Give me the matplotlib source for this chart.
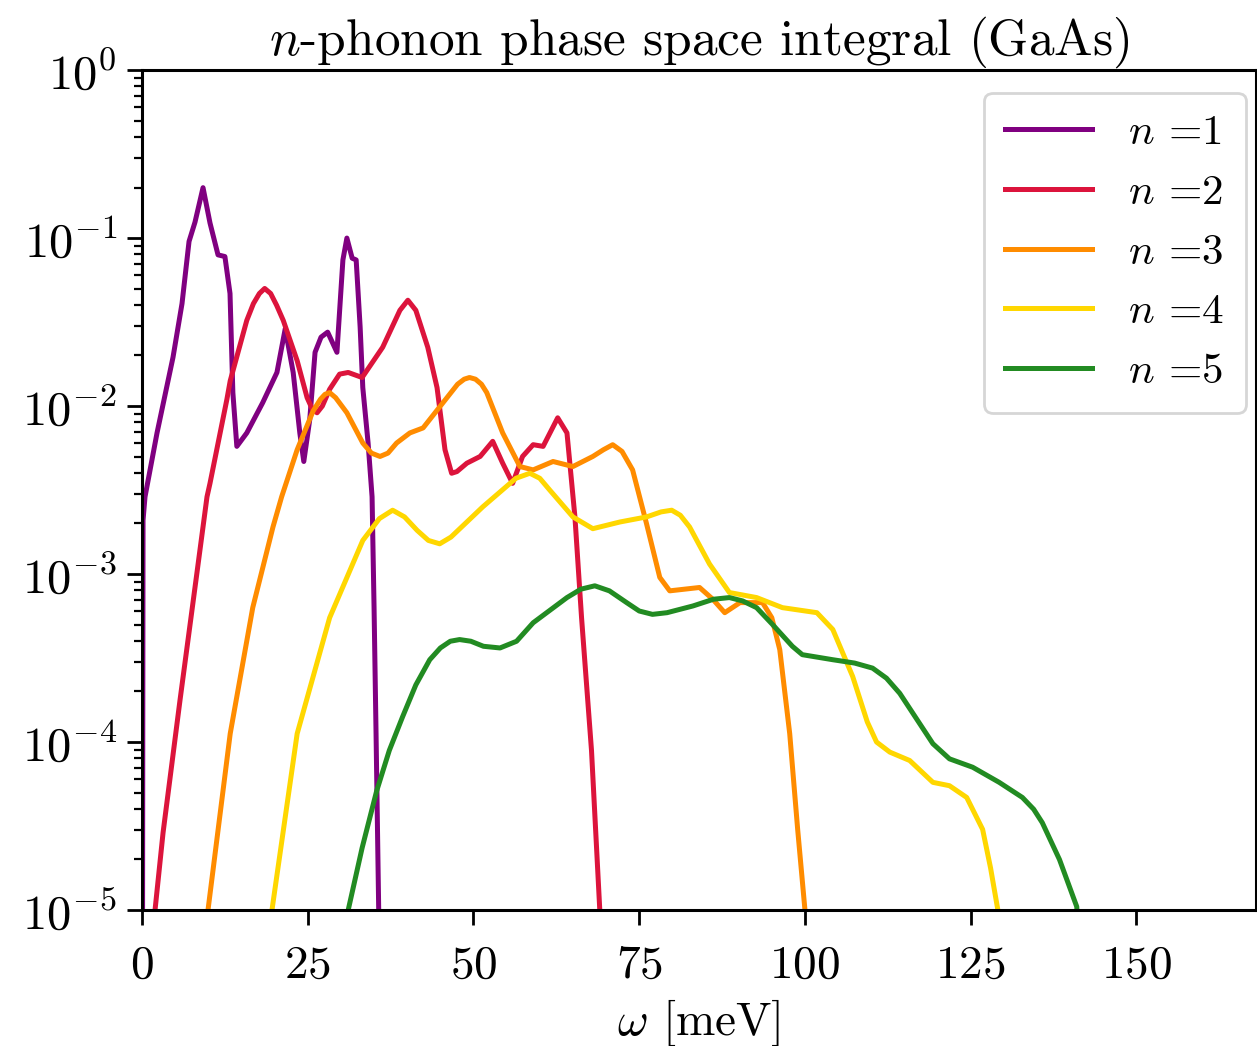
import numpy as np
import matplotlib
matplotlib.use('Agg')
import matplotlib.pyplot as plt

plt.rcParams['font.family'] = 'cmr10'
plt.rcParams['mathtext.fontset'] = 'cm'
plt.rcParams['axes.formatter.use_mathtext'] = True

# omega [meV] and log10 of the phase space integral
w1 = [0.05, 0.15, 0.45, 2.26, 4.67, 6.03, 7.09, 7.99, 9.2, 10.25, 11.46, 12.5, 13.27, 13.7,
      14.3, 15.8, 18.2, 20.35, 21.6, 22.8, 23.8, 24.4, 25.3, 26.1, 27.0, 28.0, 29.4, 30.3, 30.9,
      31.7, 32.3, 32.9, 33.3, 34.1, 34.7, 35.0, 35.3, 35.7, 35.9]
l1 = [-6.0, -2.68, -2.54, -2.16, -1.71, -1.39, -1.02, -0.905, -0.70, -0.91, -1.10, -1.11, -1.33, -1.92,
      -2.24, -2.16, -1.98, -1.80, -1.54, -1.80, -2.16, -2.33, -2.08, -1.68, -1.59, -1.56, -1.68, -1.13, -1.0,
      -1.12, -1.13, -1.53, -1.89, -2.22, -2.54, -3.2, -3.95, -5.0, -6.0]

w2 = [1.6, 1.96, 3.17, 5.73, 8.29, 9.8, 10.25, 12.8, 13.3, 15.8, 16.8, 17.7, 18.5, 19.4, 20.3,
      21.3, 23.4, 24.9, 25.7, 26.4, 27.2, 28.3, 29.8, 31.1, 33.2, 36.3, 38.9, 40.1, 41.3, 43.1,
      44.5, 45.7, 46.7, 47.5, 49.0, 51.0, 52.9, 54.4, 55.9, 57.4, 59.0, 60.5, 62.7, 64.1, 65.3,
      66.3, 67.8, 69.05, 69.3]
l2 = [-5.5, -5.0, -4.54, -3.75, -2.99, -2.54, -2.46, -1.96, -1.85, -1.49, -1.39, -1.33, -1.30, -1.33, -1.40,
      -1.49, -1.73, -1.95, -2.02, -2.04, -2.00, -1.90, -1.81, -1.80, -1.83, -1.65, -1.43, -1.37, -1.43, -1.65,
      -1.89, -2.26, -2.40, -2.39, -2.34, -2.30, -2.21, -2.34, -2.46, -2.30, -2.23, -2.24, -2.07, -2.16, -2.66,
      -3.26, -4.05, -5.0, -5.3]

w3 = [9.6, 9.95, 13.3, 16.7, 19.75, 21.06, 23.4, 25.8, 26.9, 27.6, 28.3, 29.2, 30.9, 33.3, 34.6,
      35.9, 37.1, 38.4, 40.4, 42.4, 45.4, 47.6, 48.6, 49.4, 50.3, 51.2, 52.0, 54.4, 57.0, 59.0,
      62.0, 65.0, 68.0, 69.6, 71.0, 72.4, 74.0, 76.1, 78.1, 79.6, 84.1, 86.1, 87.9, 90.2, 93.6,
      95.0, 96.2, 97.7, 98.9, 100.0, 100.3]
l3 = [-5.3, -5.0, -3.95, -3.20, -2.72, -2.54, -2.26, -2.03, -1.96, -1.93, -1.92, -1.95, -2.04, -2.22, -2.28,
      -2.30, -2.28, -2.22, -2.16, -2.13, -1.98, -1.87, -1.84, -1.83, -1.84, -1.87, -1.92, -2.16, -2.36, -2.38,
      -2.33, -2.36, -2.30, -2.26, -2.23, -2.27, -2.38, -2.70, -3.02, -3.10, -3.08, -3.15, -3.23, -3.17, -3.17,
      -3.26, -3.45, -3.95, -4.52, -5.0, -5.3]

w4 = [19.3, 19.6, 23.4, 28.3, 33.3, 35.8, 37.8, 39.6, 41.5, 43.2, 44.9, 46.6, 51.4, 56.4, 58.5,
      60.0, 61.5, 65.0, 68.0, 72.1, 76.1, 78.3, 79.9, 81.2, 82.6, 85.6, 88.6, 92.7, 96.6, 101.8,
      104.2, 107.2, 109.4, 110.8, 112.8, 115.8, 119.3, 121.8, 124.4, 126.8, 128.0, 129.1, 129.4]
l4 = [-5.3, -5.0, -3.95, -3.26, -2.80, -2.67, -2.62, -2.66, -2.74, -2.80, -2.82, -2.78, -2.60, -2.43, -2.40,
      -2.43, -2.50, -2.66, -2.73, -2.69, -2.66, -2.63, -2.62, -2.65, -2.72, -2.94, -3.11, -3.14, -3.20, -3.23,
      -3.33, -3.61, -3.88, -4.00, -4.06, -4.11, -4.24, -4.26, -4.33, -4.52, -4.75, -5.0, -5.3]

w5 = [30.8, 31.1, 33.2, 35.4, 37.3, 39.3, 41.3, 43.4, 45.0, 46.5, 47.9, 49.6, 51.5, 54.0, 56.5,
      59.0, 64.1, 66.2, 68.3, 70.5, 73.1, 75.0, 77.0, 79.2, 83.1, 86.2, 88.6, 90.6, 92.7, 95.1,
      98.1, 99.6, 104.2, 107.5, 110.2, 112.3, 114.3, 116.8, 119.3, 121.8, 125.3, 129.3, 132.8, 134.5,
      135.8, 138.4, 141.0, 141.5]
l5 = [-5.3, -5.0, -4.63, -4.29, -4.05, -3.85, -3.66, -3.51, -3.44, -3.40, -3.39, -3.40, -3.43, -3.44, -3.40,
      -3.29, -3.14, -3.09, -3.07, -3.10, -3.17, -3.22, -3.24, -3.23, -3.19, -3.15, -3.14, -3.16, -3.20, -3.30,
      -3.43, -3.48, -3.51, -3.53, -3.56, -3.62, -3.71, -3.86, -4.01, -4.10, -4.15, -4.24, -4.33, -4.40,
      -4.48, -4.70, -4.98, -5.3]

series = [(w1, l1), (w2, l2), (w3, l3), (w4, l4), (w5, l5)]
colors = ['purple', 'crimson', 'darkorange', 'gold', 'forestgreen']

fig = plt.figure(figsize=(6.285, 5.23), dpi=200)
ax = fig.add_axes([0.113, 0.130, 0.886, 0.803])

for i, (w, l) in enumerate(series):
    ax.plot(w, 10.0 ** np.array(l), color=colors[i], lw=1.8, label=r'$n$ =' + str(i + 1))

ax.set_yscale('log')
ax.set_ylim(1e-5, 1)
ax.set_xlim(0, 168)
ax.set_xticks([0, 25, 50, 75, 100, 125, 150])
ax.tick_params(axis='both', which='major', labelsize=17, length=5.5, width=1.0)
ax.tick_params(axis='x', which='major', pad=7)
ax.tick_params(axis='y', which='major', labelsize=17.5)
ax.tick_params(axis='both', which='minor', length=3, width=0.8)
for s in ax.spines.values():
    s.set_linewidth(1.1)

ax.set_xlabel(r'$\omega$ [meV]', fontsize=17, labelpad=4)
ax.set_title(r'$n$-phonon phase space integral (GaAs)', fontsize=18.5, pad=5)

ax.legend(loc='upper right', bbox_to_anchor=(0.991, 0.973), borderaxespad=0,
          fontsize=15.5, handlelength=2.0, handletextpad=0.85,
          labelspacing=0.5, borderpad=0.5)

fig.savefig('out.png', dpi=200)
